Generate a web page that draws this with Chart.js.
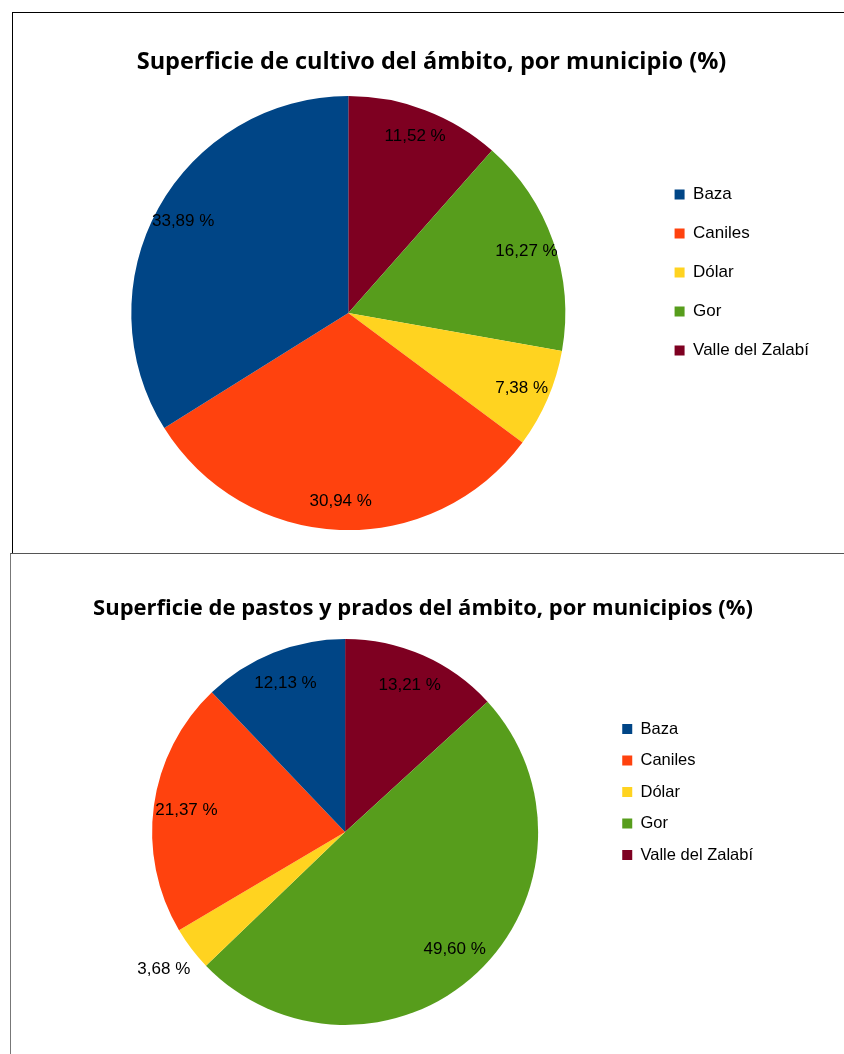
<!DOCTYPE html>
<html>
<head>
<meta charset="utf-8">
<script src="https://cdn.jsdelivr.net/npm/chart.js@4"></script>
<style>
  html, body { margin: 0; padding: 0; background: #fff; overflow: hidden; }
  body { width: 844px; height: 1054px; position: relative; }
  .box { position: absolute; background: #fff; }
  #box1 { left: 12px; top: 12px; width: 831px; height: 540px; border-top: 1px solid #000; border-left: 1px solid #000; }
  #box2 { left: 10px; top: 553px; width: 834px; height: 510px; border-top: 1px solid #555; border-left: 1px solid #777; }
</style>
</head>
<body>
<div class="box" id="box1"><canvas id="cultivo"></canvas></div>
<div class="box" id="box2"><canvas id="pastos"></canvas></div>
<script>
  'use strict';

  const municipios = ['Baza', 'Caniles', 'Dólar', 'Gor', 'Valle del Zalabí'];
  const colores = ['#004586', '#ff420e', '#ffd320', '#579d1c', '#7e0021'];
  const cultivo = [33.89, 30.94, 7.38, 16.27, 11.52];
  const pastos = [12.13, 21.37, 3.68, 49.60, 13.21];

  // LibreOffice draws the slices counter-clockwise, so feed them reversed
  const rev = (a) => a.slice().reverse();

  const pctLabels = {
    id: 'pctLabels',
    afterDatasetsDraw(chart, args, opts) {
      const ctx = chart.ctx;
      const meta = chart.getDatasetMeta(0);
      const data = chart.data.datasets[0].data;
      ctx.save();
      ctx.font = '17px "Liberation Sans", Arial, sans-serif';
      ctx.fillStyle = '#000';
      ctx.textAlign = 'center';
      ctx.textBaseline = 'middle';
      meta.data.forEach((arc, i) => {
        const p = arc.getProps(['x', 'y', 'startAngle', 'endAngle', 'outerRadius'], true);
        const mid = (p.startAngle + p.endAngle) / 2;
        const f = data[i] < 5 ? opts.outside : opts.inside;
        const r = p.outerRadius * f;
        const txt = data[i].toFixed(2).replace('.', ',') + ' %';
        ctx.fillText(txt, p.x + Math.cos(mid) * r, p.y + Math.sin(mid) * r);
      });
      ctx.restore();
    }
  };

  function makePie(id, title, values, cfg) {
    return new Chart(document.getElementById(id), {
      type: 'pie',
      data: {
        labels: rev(municipios),
        datasets: [{
          data: rev(values),
          backgroundColor: rev(colores),
          borderWidth: 0
        }]
      },
      options: {
        responsive: true,
        maintainAspectRatio: false,
        animation: false,
        radius: cfg.radius,
        layout: { padding: cfg.padding },
        plugins: {
          title: {
            display: true,
            text: title,
            color: '#000',
            font: { family: '"Open Sans"', size: cfg.titleFont, weight: 'bold' },
            padding: cfg.titlePad
          },
          legend: {
            position: 'right',
            reverse: true,
            labels: {
              color: '#000',
              boxWidth: 10,
              boxHeight: 10,
              padding: cfg.legendPad,
              font: { family: '"Liberation Sans", Arial, sans-serif', size: cfg.legendFont }
            }
          },
          tooltip: { enabled: false },
          pctLabels: { inside: cfg.inside, outside: 1.18 }
        }
      },
      plugins: [pctLabels]
    });
  }

  makePie('cultivo', 'Superficie de cultivo del ámbito, por municipio (%)', cultivo, {
    radius: 217,
    padding: { left: 31, right: 25, top: 0, bottom: 21 },
    titleFont: 23.5,
    titlePad: { top: 35.5, bottom: 17.5 },
    legendPad: 22,
    legendFont: 17,
    inside: 0.87
  });

  makePie('pastos', 'Superficie de pastos y prados del ámbito, por municipios (%)', pastos, {
    radius: 193,
    padding: { left: 72, right: 82, top: 0, bottom: 34 },
    titleFont: 22,
    titlePad: { top: 41.5, bottom: 12 },
    legendPad: 15,
    legendFont: 16.5,
    inside: 0.83
  });
</script>
</body>
</html>
